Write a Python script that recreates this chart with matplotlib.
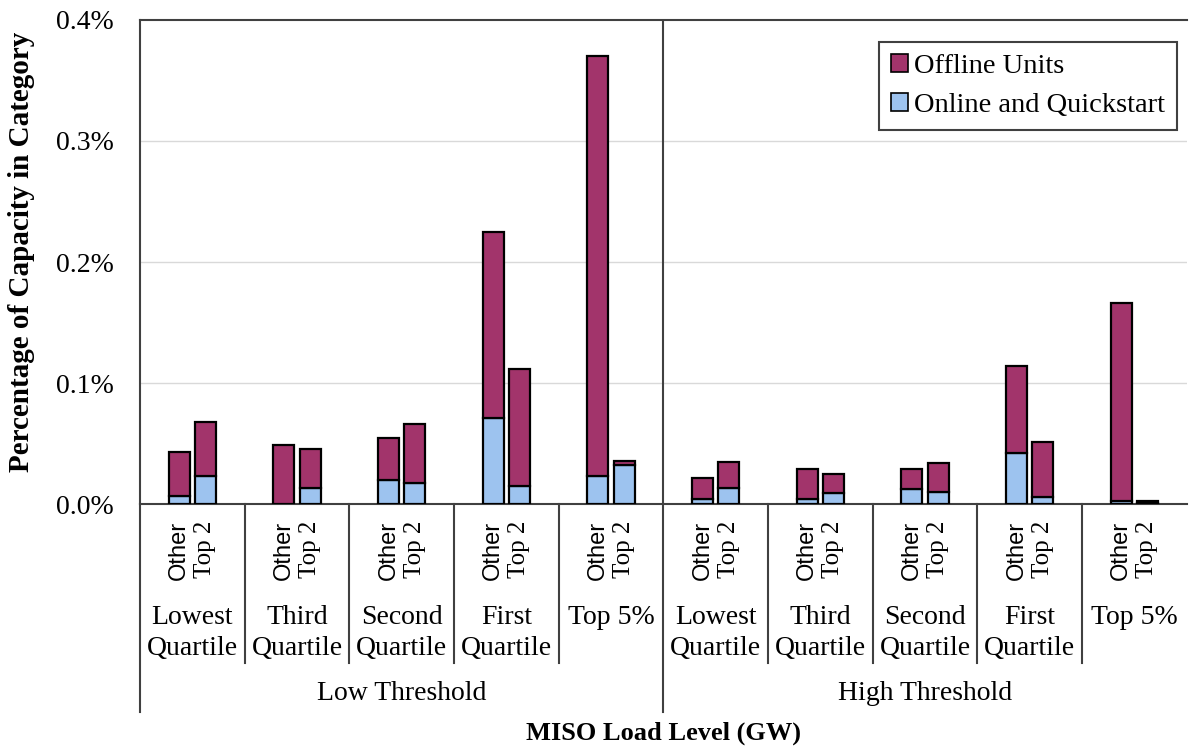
import numpy as np
import matplotlib
matplotlib.use("Agg")
import matplotlib.pyplot as plt
from matplotlib.patches import Patch
from matplotlib.lines import Line2D
from matplotlib.transforms import blended_transform_factory

plt.rcParams['font.family'] = ['Liberation Serif', 'DejaVu Serif']

# values in percent of capacity
levels = ['Lowest\nQuartile', 'Third\nQuartile', 'Second\nQuartile', 'First\nQuartile', 'Top 5%']
thresholds = ['Low Threshold', 'High Threshold']
units = ['Other', 'Top 2']
# order: for each threshold, for each level, Other then Top 2
online = [0.0071, 0.0236, 0.0, 0.0137, 0.020, 0.0178, 0.0715, 0.0151, 0.0234, 0.0325,
          0.0041, 0.0132, 0.0044, 0.0096, 0.0126, 0.0099, 0.0426, 0.0058, 0.0025, 0.001]
offline = [0.036, 0.044, 0.049, 0.032, 0.035, 0.0485, 0.153, 0.097, 0.3466, 0.0035,
           0.0174, 0.0215, 0.0245, 0.0154, 0.0168, 0.024, 0.0716, 0.0459, 0.1635, 0.002]
yticks = [0.0, 0.1, 0.2, 0.3, 0.4]
ytick_labels = ['0.0%', '0.1%', '0.2%', '0.3%', '0.4%']

c_off = '#A2346B'
c_on = '#9DC3EF'

W, H = 1189, 749
fig = plt.figure(figsize=(W/100, H/100), dpi=100)
ax = fig.add_axes([140/W, 1-504.3/H, (1186.7-140)/W, (504.3-19.9)/H])

ngroups = len(levels) * len(thresholds)
centers = np.arange(ngroups) + 0.5
x = np.ravel(np.column_stack([centers - 0.125, centers + 0.125]))
bw = 0.2
ax.bar(x, online, bw, color=c_on, edgecolor='black', linewidth=1.6, zorder=3)
ax.bar(x, offline, bw, bottom=online, color=c_off, edgecolor='black', linewidth=1.6, zorder=3)

ax.set_xlim(0, ngroups)
ax.set_ylim(0, 0.4)
ax.set_yticks(yticks)
ax.set_yticklabels(ytick_labels, fontsize=20)
ax.tick_params(axis='y', length=0, pad=19)
ax.set_xticks([])
for y in yticks[1:-1]:
    ax.axhline(y, color='#d9d9d9', lw=1, zorder=0)
ax.spines['right'].set_visible(False)
for s in ['left', 'top', 'bottom']:
    ax.spines[s].set_color('#404040')
    ax.spines[s].set_linewidth(1.5)
ax.axvline(5, color='#404040', lw=1.5, zorder=1)

# multi-level category axis
tr = blended_transform_factory(ax.transData, fig.transFigure)
fy = lambda p: 1 - p / H
for xi in [0, 5]:
    fig.add_artist(Line2D([xi, xi], [fy(504), fy(712)], transform=tr, color='#404040', lw=1.5))
for xi in [1, 2, 3, 4, 6, 7, 8, 9]:
    fig.add_artist(Line2D([xi, xi], [fy(504), fy(663)], transform=tr, color='#404040', lw=1.5))

for i, xi in enumerate(x):
    if i % 2 == 0:
        fig.text(xi, fy(521), units[0], transform=tr, rotation=90, ha='center', va='top',
                 fontsize=17, family=['Liberation Sans', 'DejaVu Sans'])
    else:
        fig.text(xi, fy(521), units[1], transform=tr, rotation=90, ha='center', va='top',
                 fontsize=18)

for g, c in enumerate(centers):
    fig.text(c, fy(605), levels[g % len(levels)], transform=tr, ha='center', va='top',
             fontsize=20, linespacing=1.3)

for t, name in enumerate(thresholds):
    fig.text(2.5 + 5 * t, fy(693), name, transform=tr, ha='center', va='center', fontsize=20)

fig.text(663.5/W, fy(733), 'MISO Load Level (GW)', ha='center', va='center',
         fontsize=19, fontweight='bold')
fig.text(22/W, fy(252), 'Percentage of Capacity in Category', rotation=90,
         ha='center', va='center', fontsize=21, fontweight='bold')

handles = [Patch(facecolor=c_off, edgecolor='black', lw=1.2, label='Offline Units'),
           Patch(facecolor=c_on, edgecolor='black', lw=1.2, label='Online and Quickstart')]
leg = ax.legend(handles=handles, loc='upper right', bbox_to_anchor=(1177/W, fy(42)),
                bbox_transform=fig.transFigure, fontsize=20.5, fancybox=False,
                edgecolor='#404040', handlelength=0.6, handleheight=0.6,
                handletextpad=0.2, borderpad=0.42, labelspacing=0.5, framealpha=1,
                borderaxespad=0)
leg.get_frame().set_linewidth(1.5)

fig.savefig('out.png', dpi=100)
